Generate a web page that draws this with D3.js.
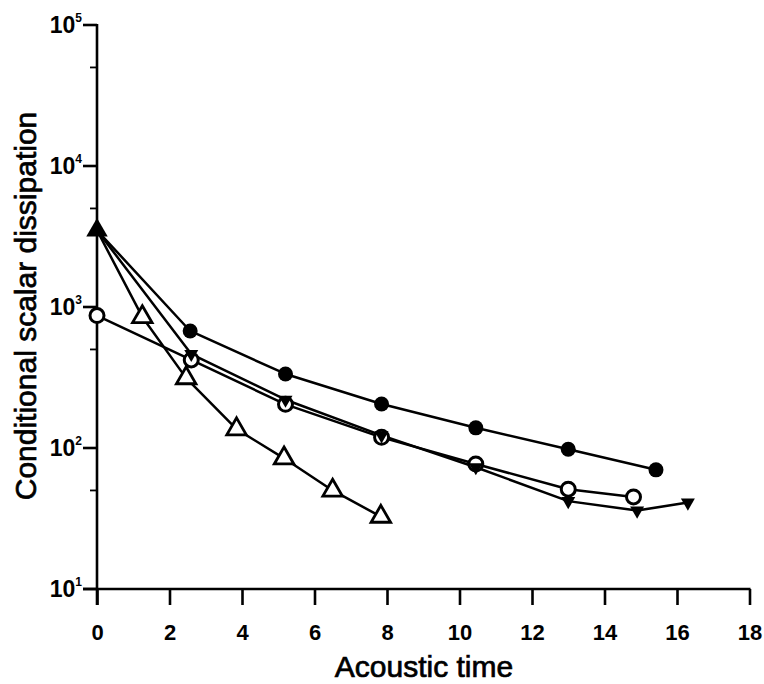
<!DOCTYPE html>
<html><head><meta charset="utf-8">
<script src="https://cdn.jsdelivr.net/npm/d3@7"></script>
<style>
html,body{margin:0;padding:0;background:#fff;}
text{font-family:"Liberation Sans",Arial,Helvetica,sans-serif;fill:#000;}
</style></head>
<body><svg id="c" width="764" height="684"></svg>
<script>
// ---- data ----
const xTicks = [0, 2, 4, 6, 8, 10, 12, 14, 16, 18];
const yMajorExps = [1, 2, 3, 4, 5];
const yMinorTicks = [50, 500, 5000, 50000];

const initialPoint = [[0, 3500]];
const filledCircleT = [0, 2.57, 5.2, 7.85, 10.45, 13.0, 15.42];
const filledCircleV = [3500, 676, 335, 205, 139, 98, 70];
const downTriT = [0, 2.6, 5.2, 7.85, 10.45, 13.0, 14.9, 16.3];
const downTriV = [3500, 464, 220, 123, 73, 42, 36, 41];
const openCircleT = [0, 2.6, 5.2, 7.85, 10.45, 13.0, 14.8];
const openCircleV = [870, 421, 204, 119, 77, 51, 45];
const openTriT = [0, 1.25, 2.46, 3.85, 5.16, 6.5, 7.83];
const openTriV = [3500, 850, 313, 136, 84.5, 50, 32.6];

const xTitle = "Acoustic time";
const yTitle = "Conditional scalar dissipation";

// ---- scales ----
const svg = d3.select("#c");
const x = d3.scaleLinear().domain([0, 18]).range([97, 749.5]);
const y = d3.scaleLog().domain([10, 1e5]).range([589, 25]);

const zip = (t, v) => t.map((d, i) => [d, v[i]]);
const sFC = zip(filledCircleT, filledCircleV);
const sDT = zip(downTriT, downTriV);
const sOC = zip(openCircleT, openCircleV);
const sOT = zip(openTriT, openTriV);

// ---- axes ----
const xAxis = d3.axisBottom(x).tickValues(xTicks).tickSize(16).tickPadding(19).tickSizeOuter(0)
  .tickFormat(d3.format("d"));
const gx = svg.append("g").attr("transform", `translate(0,${y(10)})`).call(xAxis);
gx.select(".domain").remove();
gx.selectAll(".tick line").attr("stroke", "#000").attr("stroke-width", 2.6);
gx.selectAll(".tick text").attr("font-size", 22).attr("font-weight", "bold")
  .attr("font-family", "'Liberation Sans',Arial,sans-serif").attr("fill", "#000");
svg.append("line").attr("x1", x(0) - 14).attr("x2", x(18) + 1)
  .attr("y1", y(10)).attr("y2", y(10)).attr("stroke", "#000").attr("stroke-width", 2.6);

const yMajor = yMajorExps.map(e => Math.pow(10, e));
const gy = svg.append("g").attr("transform", `translate(${x(0)},0)`);
gy.append("line").attr("x1", 0).attr("x2", 0).attr("y1", y(1e5) - 1).attr("y2", y(10) + 16)
  .attr("stroke", "#000").attr("stroke-width", 2.6);
gy.selectAll(".maj").data(yMajor).join("line").attr("class", "maj")
  .attr("x1", -14).attr("x2", 0).attr("y1", d => y(d)).attr("y2", d => y(d))
  .attr("stroke", "#000").attr("stroke-width", 2.6);
gy.selectAll(".min").data(yMinorTicks).join("line").attr("class", "min")
  .attr("x1", -7).attr("x2", 0).attr("y1", d => y(d)).attr("y2", d => y(d))
  .attr("stroke", "#000").attr("stroke-width", 1.8);
const yl = gy.selectAll(".lab").data(yMajorExps).join("text").attr("class", "lab")
  .attr("x", -15).attr("y", e => y(Math.pow(10, e)) + 8)
  .attr("text-anchor", "end").attr("font-size", 23).attr("font-weight", "bold");
yl.append("tspan").text("10");
yl.append("tspan").attr("font-size", 12).attr("dy", -11).text(e => e);

// ---- titles ----
svg.append("text").attr("x", 424).attr("y", 677).attr("text-anchor", "middle")
  .attr("font-size", 30).attr("stroke", "#000").attr("stroke-width", 0.7).text(xTitle);
svg.append("text").attr("transform", "translate(36,306) rotate(-90)").attr("text-anchor", "middle")
  .attr("font-size", 30).attr("stroke", "#000").attr("stroke-width", 0.7).text(yTitle);

// ---- lines ----
const line = d3.line().x(d => x(d[0])).y(d => y(d[1]));
[sFC, sDT, sOC, sOT].forEach(s => {
  svg.append("path").datum(s).attr("d", line).attr("fill", "none")
    .attr("stroke", "#000").attr("stroke-width", 2.5).attr("stroke-linejoin", "round");
});

// ---- markers ----
const tri = d3.symbol().type(d3.symbolTriangle);
svg.selectAll(".ot").data(sOT.slice(1)).join("path").attr("class", "ot")
  .attr("d", tri.size(165)())
  .attr("transform", d => `translate(${x(d[0])},${y(d[1])})`)
  .attr("fill", "#fff").attr("stroke", "#000").attr("stroke-width", 2.8);
svg.selectAll(".oc").data(sOC).join("circle").attr("class", "oc")
  .attr("cx", d => x(d[0])).attr("cy", d => y(d[1])).attr("r", 7)
  .attr("fill", "#fff").attr("stroke", "#000").attr("stroke-width", 3);
svg.selectAll(".dt").data(sDT.slice(1)).join("path").attr("class", "dt")
  .attr("d", d3.symbol().type(d3.symbolTriangle).size(85)())
  .attr("transform", d => `translate(${x(d[0])},${y(d[1])}) rotate(180)`)
  .attr("fill", "#000");
svg.selectAll(".fc").data(sFC.slice(1)).join("circle").attr("class", "fc")
  .attr("cx", d => x(d[0])).attr("cy", d => y(d[1])).attr("r", 7.5)
  .attr("fill", "#000");
svg.selectAll(".it").data(initialPoint).join("path").attr("class", "it")
  .attr("d", d3.symbol().type(d3.symbolTriangle).size(200)())
  .attr("transform", d => `translate(${x(d[0])},${y(d[1])})`)
  .attr("fill", "#000");
</script></body></html>
